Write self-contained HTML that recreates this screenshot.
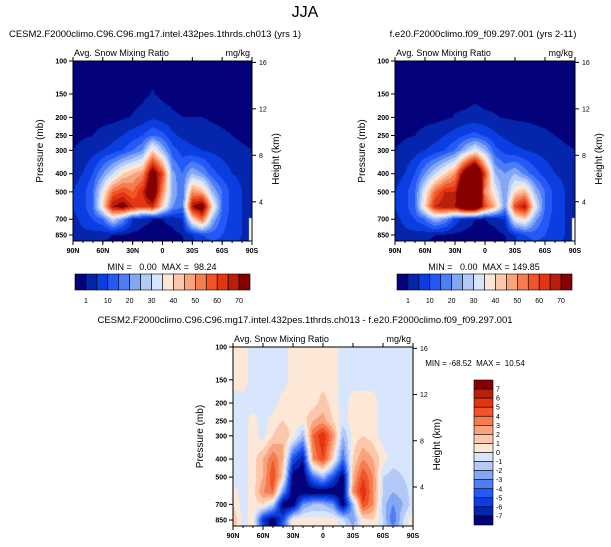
<!DOCTYPE html>
<html><head><meta charset="utf-8">
<style>
html,body{margin:0;padding:0;background:#fff;}
body{width:611px;height:547px;position:relative;overflow:hidden;font-family:"Liberation Sans",Arial,sans-serif;}
svg{position:absolute;left:0;top:0;}
canvas{position:absolute;}
text{white-space:pre;}
</style></head>
<body>
<canvas id="c1"></canvas>
<canvas id="c2"></canvas>
<canvas id="c3"></canvas>
<svg id="s" width="611" height="547"></svg>
<script>
// ---- data ----
const lats = [90,80,70,60,50,40,30,20,10,0,-10,-20,-30,-40,-50,-60,-70,-80,-90];
const levels = [100,150,200,250,300,400,500,600,700,850,915];
const field1 = [
 [0,0,0,0,0,0,0,0,0,0,0,0,0,0,0,0,0,0,0],
 [0,0,0,0,0,0,0,0.3,1.2,0.3,0,0,0,0,0,0,0,0,0],
 [0,0,0,0,0,0.5,1.2,2,4,2.5,1.5,1,1,1,0.6,0.3,0,0,0],
 [0.3,0.6,1,2,3,5,7,10,15,12,6,4,3,2.5,2,1.5,1,0.5,0],
 [1,2,3,5,7,10,15,20,40,25,12,8,6,5,4,3,2,1.5,1],
 [3,5,10,20,30,40,45,50,80,60,22,15,25,20,12,8,5,4,2],
 [5,8,15,35,55,60,55,65,85,50,25,15,50,45,25,15,8,5,3],
 [5,8,15,40,70,75,65,60,65,40,20,15,70,80,40,15,8,5,3],
 [4,6,10,15,30,20,5,2,1,1,2,5,40,55,25,12,8,5,3],
 [3,4,3,2,1,0.5,0,0,0,0,0,1,5,10,12,10,8,5,3],
 [2,3,2,1,0.5,0,0,0,0,0,0,0.5,4,8,10,9,7,4,2]
];
const field2 = [
 [0,0,0,0,0,0,0,0,0,0,0,0,0,0,0,0,0,0,0],
 [0,0,0,0,0,0,0,0,0.3,0,0,0,0,0,0,0,0,0,0],
 [0,0,0,0,0,0.4,1.2,1.5,2,1.5,1.2,0.8,0.6,0.5,0.3,0.2,0,0,0],
 [0.3,0.6,1,2,3,5,7,10,12,9,6,4,3,2.5,2,1.5,1,0.5,0],
 [1,2,3,5,7,10,15,25,35,25,12,8,6,5,4,3,2,1.5,1],
 [3,5,10,20,30,40,50,80,100,60,25,20,25,18,12,8,5,4,2],
 [5,8,15,35,55,65,65,100,110,50,35,20,40,45,25,15,8,5,3],
 [5,8,15,40,65,70,70,90,90,60,45,20,60,70,35,15,8,5,3],
 [4,6,10,15,25,20,8,3,1,1,2,5,35,40,22,12,8,5,3],
 [3,4,3,2,1,0.5,0,0,0,0,0,1,5,10,12,10,8,5,3],
 [2,3,2,1,0.5,0,0,0,0,0,0,0.5,4,8,10,9,7,4,2]
];
const fieldDiff = [
 [0.5,0.5,-0.5,-0.5,-0.5,-0.5,0.5,0.5,0.5,0.5,0.5,-0.5,-0.5,-0.5,-0.5,-0.5,-0.5,-0.5,-0.5],
 [0.5,0.5,-0.5,-0.5,-0.5,-0.5,0.5,0.5,0.5,0.5,0.5,-0.5,-0.5,-0.5,-0.5,-0.5,-0.5,-0.5,-0.5],
 [-0.5,-0.5,-0.5,-0.5,-0.5,0.5,0.5,0.5,0.5,1.5,0.5,-0.5,0.5,0.5,0.5,-0.5,-0.5,-0.5,-0.5],
 [-0.5,-0.5,0.5,-0.5,0.5,1,0.5,0.5,2,2.5,1,-0.5,0.5,0.5,0.5,-0.5,-0.5,-0.5,-0.5],
 [-0.5,-0.5,0.5,-0.5,1,2,0.5,-2,4,6,3,-2,0.5,1,0.5,-0.5,-0.5,-0.5,-0.5],
 [-0.5,-0.5,0.5,2,4,2,-5,-7,3,5,1,-4,1,3,2,0.5,-0.5,-0.5,-0.5],
 [-0.5,-0.5,0.5,2,5,1,-8,-8,-4,-2,-5,-8,2,5,3,-1,-1.5,-1,-0.5],
 [0.5,-0.5,0.5,3,4,-3,-8,-8,-8,-8,-8,-8,3,6,3,-1,-2,-1.5,-0.5],
 [1,-0.5,0.5,1,-1,-8,-8,-3,-2,-2,-3,-8,-2,5,3,-1.5,-3,-2,-0.5],
 [2,-0.5,0.5,-6,-8,-5,0.5,0.5,0.5,0.5,0.5,-0.5,-3,0.5,1,-1,-4,-1,1],
 [2,-0.5,0.5,-5,-8,-4,0.5,0.5,0.5,0.5,0.5,-0.5,-2,0.5,1,-1,-3,-1,1]
];
const contourLevels = [1,5,10,15,20,25,30,35,40,45,50,55,60,65,70];
const diffLevels = [-7,-6,-5,-4,-3,-2,-1,0,1,2,3,4,5,6,7];
const barLabels1 = ["1","10","20","30","40","50","60","70"];
const diffLabels = ["7","6","5","4","3","2","1","0","-1","-2","-3","-4","-5","-6","-7"];
const pTicks = [100,150,200,250,300,400,500,700,850];
const hTicks = [16,12,8,4];
const latTicks = ["90N","60N","30N","0","30S","60S","90S"];
const colors = ['#03027a','#0525ad','#0a3ee0','#2459f7','#4d7ef5','#83a6f5','#b4c9f7','#d7e6fc','#fde8d8','#fdc7ab','#f9a37c','#f57c4f','#f25428','#e33512','#b9200b','#870000'];

// ---- helpers ----
const NS="http://www.w3.org/2000/svg", S=document.getElementById('s');
function el(tag,attrs,parent){const e=document.createElementNS(NS,tag);for(const k in attrs)e.setAttribute(k,attrs[k]);(parent||S).appendChild(e);return e;}
function txt(x,y,s,size,anchor,name,extra){const t=el('text',Object.assign({x:x,y:y,'font-size':size,'text-anchor':anchor||'start',fill:'#000'},extra||{}));t.textContent=s;return t;}
const pBot=915;
function interp(field,lat,p){
  let fi=(90-lat)/10; fi=Math.max(0,Math.min(17.999,fi)); const i=Math.floor(fi), fx=fi-i;
  const lp=Math.log(p); let j=0; while(j<levels.length-2 && Math.log(levels[j+1])<lp) j++;
  let fy=(lp-Math.log(levels[j]))/(Math.log(levels[j+1])-Math.log(levels[j])); fy=Math.max(0,Math.min(1,fy));
  const a=field[j][i]*(1-fx)+field[j][i+1]*fx, b=field[j+1][i]*(1-fx)+field[j+1][i+1]*fx;
  return a*(1-fy)+b*fy;
}
function colorFor(v,lv){let k=0;while(k<lv.length && v>=lv[k])k++;return colors[k];}

function panel(o){
  const {x0,x1,y0,y1,field,lv,cid}=o, W=x1-x0, H=y1-y0;
  const yOf=p=>y0+Math.log(p/100)/Math.log(pBot/100)*H;
  const cv=document.getElementById(cid); cv.width=W; cv.height=H; cv.style.left=x0+'px'; cv.style.top=y0+'px';
  const ctx=cv.getContext('2d');
  for(let py=0;py<H;py++){
    const p=100*Math.pow(pBot/100,(py+0.5)/H);
    for(let px=0;px<W;px++){
      const lat=90-(px+0.5)/W*180;
      ctx.fillStyle=colorFor(interp(field,lat,p),lv); ctx.fillRect(px,py,1,1);
    }
  }
  if(o.whiteCorner){ctx.fillStyle='#fff';ctx.fillRect(W-3,yOf(690)-y0,3,H);}
  const f=el('rect',{x:x0,y:y0,width:W,height:H,fill:'none',stroke:'#000','stroke-width':1});
  
  pTicks.forEach(p=>{const y=yOf(p);el('line',{x1:x0-4,x2:x0,y1:y,y2:y,stroke:'#000'});txt(x0-6,y+2.5,String(p),7,'end','pressure-tick-label',{'font-weight':'bold'});});
  hTicks.forEach(h=>{const p=1000*Math.exp(-h/7);const y=yOf(p);el('line',{x1:x1,x2:x1+4,y1:y,y2:y,stroke:'#000'});txt(x1+7,y+2.5,String(h),7,'start','height-tick-label');});
  latTicks.forEach((l,k)=>{const x=x0+k*W/6;el('line',{x1:x,x2:x,y1:y1,y2:y1+4,stroke:'#000'});el('line',{x1:x,x2:x,y1:y0,y2:y0-4,stroke:'#000'});txt(x,y1+12,l,7,'middle','latitude-tick-label',{'font-weight':'bold'});});
  for(let k=0;k<18;k++){const x=x0+k*W/18;el('line',{x1:x,x2:x,y1:y1,y2:y1+2,stroke:'#000'});}
  txt(x0+1,y0-5,'Avg. Snow Mixing Ratio',9,'start','plot-subtitle');
  txt(x1-2,y0-5,'mg/kg',9,'end','units-label');
  txt(x0-30,(y0+y1)/2,'Pressure (mb)',10,'middle','y-axis-title',{transform:`rotate(-90 ${x0-30} ${(y0+y1)/2})`});
  txt(x1+27,(y0+y1)/2+8,'Height (km)',10,'middle','right-axis-title',{transform:`rotate(-90 ${x1+27} ${(y0+y1)/2+8})`});
}

txt(305,17,'JJA',16,'middle','figure-title');
panel({x0:73,x1:252,y0:61,y1:241,field:field1,lv:contourLevels,cid:'c1',whiteCorner:true});
panel({x0:395,x1:575,y0:61,y1:241,field:field2,lv:contourLevels,cid:'c2',whiteCorner:true});
panel({x0:233,x1:413,y0:347,y1:526,field:fieldDiff,lv:diffLevels,cid:'c3'});
txt(155,37,'CESM2.F2000climo.C96.C96.mg17.intel.432pes.1thrds.ch013 (yrs 1)',9.5,'middle','left-panel-title');
txt(483,37,'f.e20.F2000climo.f09_f09.297.001 (yrs 2-11)',9.5,'middle','right-panel-title');
txt(305,323,'CESM2.F2000climo.C96.C96.mg17.intel.432pes.1thrds.ch013 - f.e20.F2000climo.f09_f09.297.001',9.5,'middle','difference-panel-title');
txt(162,270,'MIN =   0.00  MAX =  98.24',9,'middle','stats-label-1');
txt(484,270,'MIN =   0.00  MAX = 149.85',9,'middle','stats-label-2');
txt(475,366,'MIN = -68.52  MAX =  10.54',8,'middle','stats-label-3');

function hbar(x0,x1,y0,name){
  const w=(x1-x0)/16;
  colors.forEach((c,k)=>{const r=el('rect',{x:x0+k*w,y:y0,width:w,height:16,fill:c,stroke:'#000','stroke-width':0.6});});
  barLabels1.forEach((l,k)=>txt(x0+w*(1+2*k),y0+29,l,7,'middle',name+'-label'));
}
hbar(75,250,274,'colorbar-1');
hbar(397,572,274,'colorbar-2');
(function(){
  const x0=474,y0=380,y1=525,h=(y1-y0)/16;
  colors.slice().reverse().forEach((c,k)=>{const r=el('rect',{x:x0,y:y0+k*h,width:19,height:h,fill:c,stroke:'#000','stroke-width':0.6});});
  diffLabels.forEach((l,k)=>txt(x0+22,y0+(k+1)*h+2.5,l,7,'start','colorbar-diff-label'));
})();
</script>
</body></html>
